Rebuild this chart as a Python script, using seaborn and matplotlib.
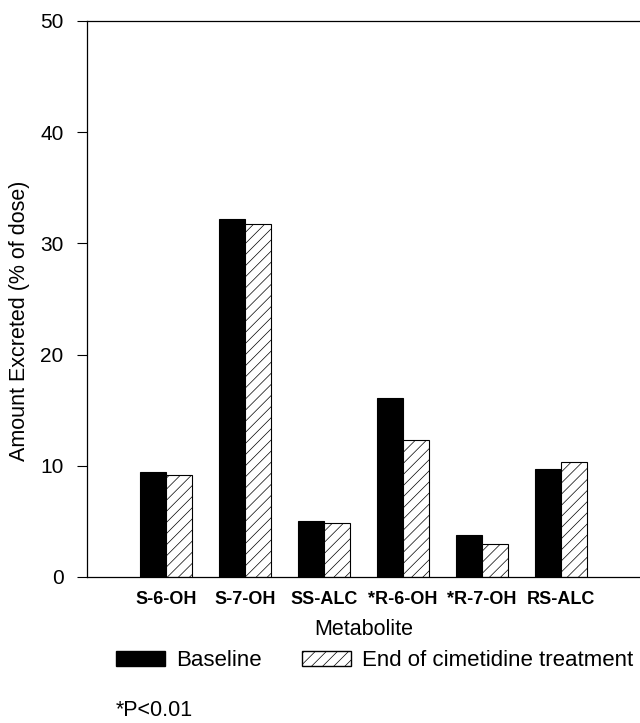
import matplotlib
matplotlib.use("Agg")
import matplotlib.pyplot as plt
import pandas as pd
import seaborn as sns

metabolites = ["S-6-OH", "S-7-OH", "SS-ALC", "*R-6-OH", "*R-7-OH", "RS-ALC"]
baseline = [9.4, 32.2, 5.0, 16.1, 3.8, 9.7]
cimetidine = [9.2, 31.7, 4.9, 12.3, 3.0, 10.3]
groups = ["Baseline", "End of cimetidine treatment"]

df = pd.DataFrame({
    "metabolite": metabolites * 2,
    "value": baseline + cimetidine,
    "group": [groups[0]] * len(metabolites) + [groups[1]] * len(metabolites),
})

sns.set_style("white")
plt.rcParams["font.family"] = ["Liberation Sans", "DejaVu Sans"]
plt.rcParams["hatch.linewidth"] = 0.5
plt.rcParams["text.color"] = "black"
plt.rcParams["axes.labelcolor"] = "black"
plt.rcParams["xtick.color"] = "black"
plt.rcParams["ytick.color"] = "black"

fig = plt.figure(figsize=(6.4, 7.23), dpi=100)
ax = fig.add_axes([87 / 640, 146 / 723, 1 - 87 / 640, 556 / 723])

sns.barplot(data=df, x="metabolite", y="value", hue="group",
            palette=["black", "white"], edgecolor="black", linewidth=0.8,
            width=0.66, saturation=1, ax=ax, legend=False)

n = len(metabolites)
for p in ax.patches[n:2 * n]:
    p.set_hatch("///")

ax.set_ylim(0, 50)
ax.set_xlim(-1, 6)
ax.set_yticks(range(0, 51, 10))
ax.tick_params(axis="y", direction="out", length=7, width=0.8, pad=10,
               labelsize=15, left=True)
ax.tick_params(axis="x", length=0, labelsize=13, pad=10)
for lbl in ax.get_xticklabels():
    lbl.set_fontweight("bold")
ax.set_xlabel("Metabolite", fontsize=15.5, labelpad=8)
ax.set_ylabel("Amount Excreted (% of dose)", fontsize=15.5)
ax.yaxis.set_label_coords(-0.103, 0.46)
for s in ["left", "top", "bottom"]:
    ax.spines[s].set_visible(True)
    ax.spines[s].set_color("black")
    ax.spines[s].set_linewidth(0.9)
ax.spines["right"].set_visible(False)

# legend below the axes
handles = [
    matplotlib.patches.Patch(facecolor="black", edgecolor="black", label=groups[0]),
    matplotlib.patches.Patch(facecolor="white", edgecolor="black", hatch="///", label=groups[1]),
]
fig.legend(handles=handles, loc="center left", bbox_to_anchor=(116 / 640, 1 - 661 / 723),
           ncol=2, frameon=False, fontsize=16, handlelength=2.2, handleheight=0.65,
           columnspacing=1.8, handletextpad=0.5, borderpad=0, borderaxespad=0)
fig.text(116 / 640, 1 - 711 / 723, "*P<0.01", fontsize=15.5, va="center")

fig.savefig("out.png", dpi=100)
